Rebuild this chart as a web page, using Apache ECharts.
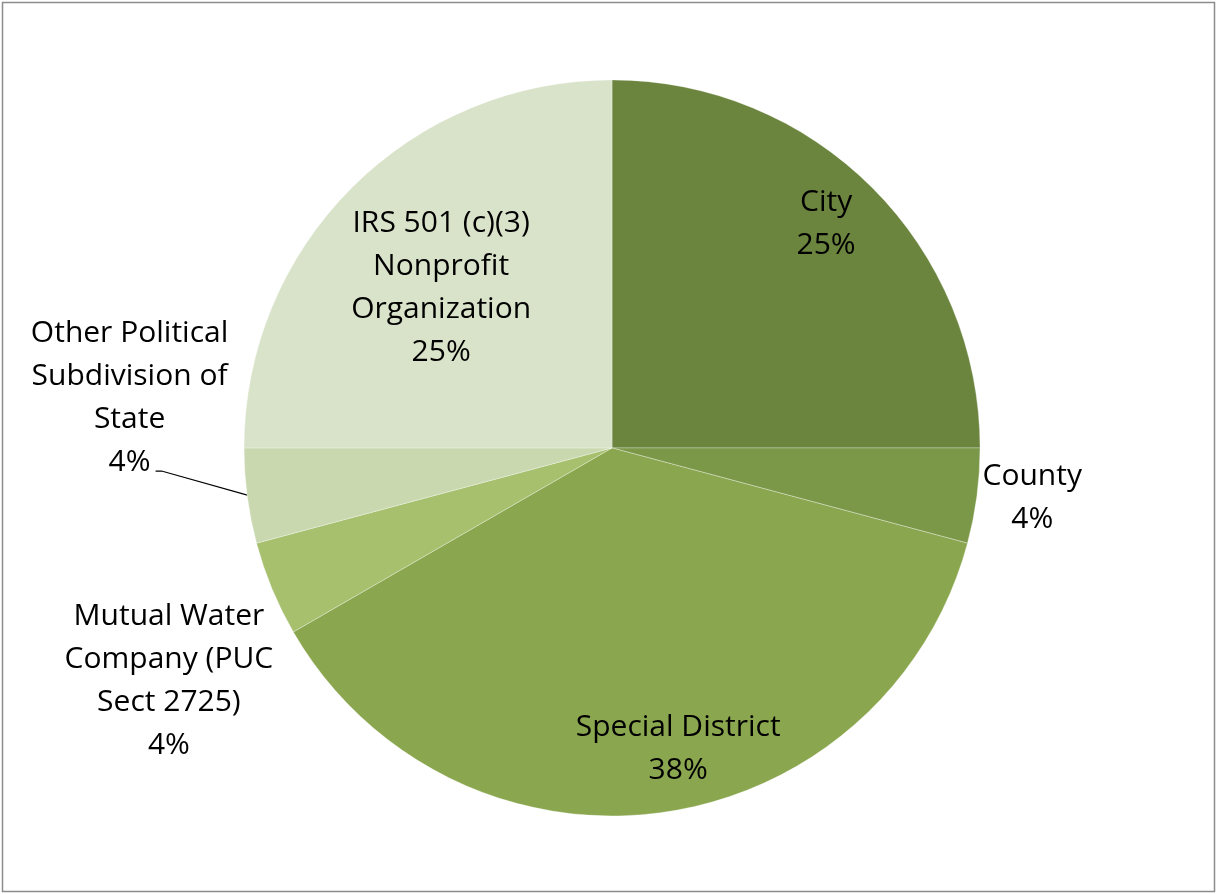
<!DOCTYPE html>
<html>
<head>
<meta charset="utf-8">
<script src="https://cdn.jsdelivr.net/npm/echarts@6/dist/echarts.min.js"></script>
<style>html,body{margin:0;padding:0;background:#fff}#c{width:1217px;height:894px}</style>
</head>
<body>
<div id="c"></div>
<script>
const categories = ['City','County','Special District','Mutual Water\nCompany (PUC\nSect 2725)','Other Political\nSubdivision of\nState','IRS 501 (c)(3)\nNonprofit\nOrganization'];
const values = [6, 1, 9, 1, 1, 6];
const colors = ['#6b843e','#7b9848','#8aa64f','#a6c06e','#cad8b0','#d9e3c9'];
// label placement style: radius factor and angle (deg, clockwise from top) offset from slice mid-angle
const labelPlace = [
  {rf:0.842, da:-1.3},
  {rf:1.15, da:-0.7},
  {rf:0.837, da:-4.9},
  {rf:1.36, da:-5.2},
  {rf:1.318, da:13.4},
  {rf:0.636, da:-1.9}
];

const chart = echarts.init(document.getElementById('c'));
const R = 368;
const total = values.reduce((a,b)=>a+b,0);
const mids = [];
let acc = 0;
values.forEach(v => { mids.push((acc + v/2)/total*360); acc += v; });

function cx(){ return chart.getWidth()*0.5029; }
function cy(){ return chart.getHeight()*0.501; }
function pt(ang, r){ const a = ang*Math.PI/180; return [cx()+r*Math.sin(a), cy()-r*Math.cos(a)]; }

const data = categories.map((n,i)=>({
  name:n, value:values[i],
  itemStyle:{color:colors[i]},
  labelLine:{show: i===4, lineStyle:{color:'#000', width:1.2}}
}));

chart.setOption({
  animation:false,
  graphic:[{type:'rect', shape:{x:2.5,y:2.5,width:1212,height:889}, style:{fill:'none', stroke:'#8c8c8c', lineWidth:1.5}, silent:true}],
  series:[{
    type:'pie',
    center:['50.29%','50.1%'],
    radius:[0, R],
    startAngle:90,
    clockwise:true,
    avoidLabelOverlap:false,
    itemStyle:{borderColor:'rgba(255,255,255,0.3)', borderWidth:1},
    label:{
      show:true, position:'outside',
      formatter: p => p.name + '\n' + Math.round(p.percent) + '%',
      fontFamily:'Open Sans', fontSize:30, lineHeight:43, color:'#000', align:'center'
    },
    labelLine:{show:false},
    labelLayout: function(params){
      const i = params.dataIndex;
      const lp = labelPlace[i];
      const p = pt(mids[i] + lp.da, lp.rf*R);
      const res = {x:p[0], y:p[1], align:'center', verticalAlign:'middle'};
      if (i === 4) {
        const e = pt(mids[i], R-2);
        const yEnd = p[1] + 73;
        res.labelLinePoints = [e, [p[0]+32, yEnd], [p[0]+26, yEnd]];
      }
      return res;
    },
    data:data
  }]
});
</script>
</body>
</html>
